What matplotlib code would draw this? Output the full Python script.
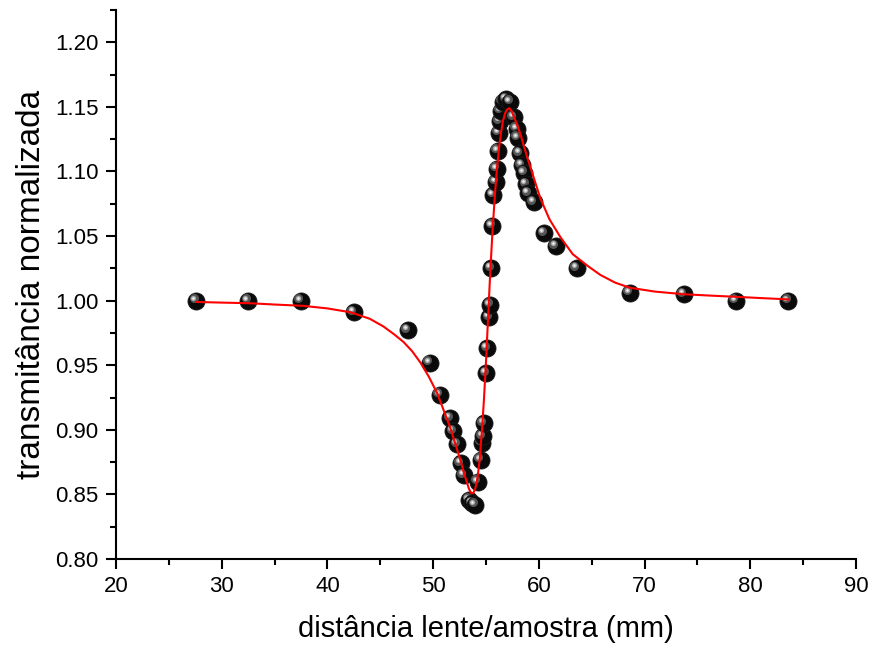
import numpy as np
import matplotlib
matplotlib.use("Agg")
import matplotlib.pyplot as plt
from matplotlib import transforms
from matplotlib.ticker import MultipleLocator, FormatStrFormatter

plt.rcParams['font.family'] = ['Liberation Sans', 'DejaVu Sans']

# pontos experimentais (z-scan)
z_data = [27.6, 32.5, 37.5, 42.5, 47.6, 49.7, 50.6, 51.6, 51.9, 52.3,
          52.6, 52.9, 53.4, 53.7, 54.0, 54.2, 54.5, 54.6, 54.7, 54.8,
          55.0, 55.1, 55.3, 55.4, 55.5, 55.6, 55.7, 55.9, 56.0, 56.1,
          56.2, 56.3, 56.4, 56.6, 56.9, 57.3, 57.6, 57.9, 58.0, 58.2,
          58.4, 58.6, 58.8, 59.0, 59.5, 60.5, 61.6, 63.6, 68.6, 73.7,
          78.6, 83.6]
t_data = [1.000, 1.000, 1.000, 0.991, 0.977, 0.952, 0.927, 0.909, 0.899, 0.889,
          0.874, 0.865, 0.846, 0.843, 0.842, 0.860, 0.877, 0.890, 0.895, 0.905,
          0.944, 0.963, 0.987, 0.997, 1.025, 1.058, 1.082, 1.092, 1.102, 1.116,
          1.130, 1.139, 1.147, 1.154, 1.156, 1.154, 1.142, 1.133, 1.126, 1.114,
          1.105, 1.099, 1.090, 1.083, 1.076, 1.052, 1.042, 1.025, 1.006, 1.005,
          1.000, 1.000]

# curva de ajuste
z_fit = [27.6, 30.0, 32.7, 35.0, 37.7, 40.0, 42.2, 44.0, 45.3, 46.3,
         47.2, 48.0, 48.8, 49.6, 50.4, 51.0, 51.6, 52.1, 52.6, 52.9,
         53.2, 53.4, 53.6, 53.8, 54.0, 54.2, 54.4, 54.6, 54.8, 55.0,
         55.2, 55.4, 55.6, 55.8, 56.0, 56.2, 56.4, 56.6, 56.8, 57.0,
         57.2, 57.4, 57.6, 57.9, 58.25, 58.6, 59.05, 59.6, 60.15, 61.0,
         62.05, 63.2, 64.6, 65.8, 67.2, 68.6, 71.0, 73.7, 76.0, 78.6,
         81.0, 83.6]
t_fit = [0.999, 0.9985, 0.998, 0.997, 0.996, 0.994, 0.991, 0.986, 0.980, 0.974,
         0.968, 0.961, 0.952, 0.941, 0.928, 0.915, 0.902, 0.889, 0.876, 0.867,
         0.859, 0.854, 0.851, 0.851, 0.855, 0.863, 0.877, 0.898, 0.923, 0.953,
         0.988, 1.022, 1.052, 1.077, 1.099, 1.116, 1.129, 1.139, 1.145, 1.148,
         1.149, 1.147, 1.143, 1.137, 1.129, 1.119, 1.107, 1.093, 1.079, 1.063,
         1.049, 1.036, 1.027, 1.020, 1.014, 1.010, 1.007, 1.005, 1.004, 1.003,
         1.002, 1.001]

fig = plt.figure(figsize=(8.7, 6.47), dpi=100)
ax = fig.add_axes([0.1333, 0.136, 0.8507, 0.8485])

# esferas pretas com brilho
hl = transforms.offset_copy(ax.transData, fig=fig, x=-2.5, y=2.5, units='dots')
hl2 = transforms.offset_copy(ax.transData, fig=fig, x=-3, y=3, units='dots')
for i, (z, t) in enumerate(zip(z_data, t_data)):
    zo = 2 + i * 0.01
    ax.plot([z], [t], 'o', ms=12.3, mfc='#0a0a0a', mec='#1a1a1a', mew=0.6, zorder=zo)
    ax.plot([z], [t], 'o', ms=6.5, mfc='#555555', mec='none', transform=hl, zorder=zo + 0.002)
    ax.plot([z], [t], 'o', ms=3.8, mfc='#a8a8a8', mec='none', transform=hl2, zorder=zo + 0.004)
    ax.plot([z], [t], 'o', ms=1.8, mfc='#f4f4f4', mec='none', transform=hl2, zorder=zo + 0.006)

ax.plot(z_fit, t_fit, color='red', lw=1.5, zorder=10)

ax.set_xlim(20, 90)
ax.set_ylim(0.8, 1.225)
ax.xaxis.set_major_locator(MultipleLocator(10))
ax.xaxis.set_minor_locator(MultipleLocator(5))
ax.yaxis.set_major_locator(MultipleLocator(0.05))
ax.yaxis.set_minor_locator(MultipleLocator(0.025))
ax.yaxis.set_major_formatter(FormatStrFormatter('%.2f'))

for s in ['top', 'right']:
    ax.spines[s].set_visible(False)
for s in ['left', 'bottom']:
    ax.spines[s].set_linewidth(1.5)

ax.tick_params(which='major', direction='out', length=7.5, width=1.5, labelsize=16, pad=5)
ax.tick_params(which='minor', direction='out', length=4, width=1.5)

ax.set_xlabel('distância lente/amostra (mm)', fontsize=21, labelpad=13)
ax.set_ylabel('transmitância normalizada', fontsize=24, labelpad=6)

fig.savefig('out.png', dpi=100)
